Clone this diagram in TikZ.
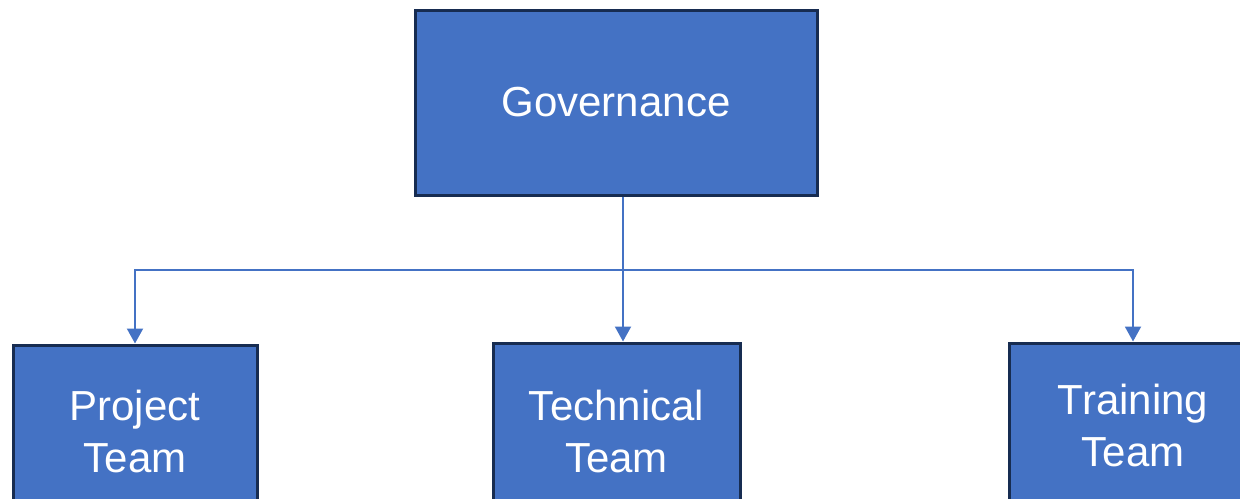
\documentclass[tikz,border=0pt]{standalone}
\usepackage{fontspec}
\setmainfont{Liberation Sans}
\usetikzlibrary{arrows.meta}
\definecolor{boxblue}{HTML}{4472C4}
\definecolor{boxedge}{HTML}{172C51}
\tikzstyle{block} = [rectangle, draw=boxedge, fill=boxblue, line width=1.5pt,
    text=white, align=center, font=\fontsize{21}{26}\selectfont, inner sep=0pt]
\tikzstyle{line} = [draw=boxblue, line width=1pt, -{Triangle[width=8pt,length=7.5pt]}]

\begin{document}
\begin{tikzpicture}[x=0.5pt, y=-0.5pt]
	    \clip (0,0) rectangle (1240,498);
	    % Place nodes
	    \node [block, minimum width=201pt, minimum height=92.5pt] (gov) at (616,102.5) {Governance};
	    \node [block, minimum width=122pt, minimum height=86pt] (proj) at (135,431) {Project\\Team};
	    \node [block, minimum width=123.5pt, minimum height=88pt] (tech) at (616.5,431) {Technical\\Team};
	    \node [block, minimum width=124pt, minimum height=82pt] (train) at (1133,425) {Training\\Team};
	    \coordinate (bus) at (623,270);
	    % Draw edges
	    \path [line] (gov.south -| bus) -- (tech.north -| bus);
	    \path [line] (bus -| proj.north) -| (train.north);
	    \path [line] (bus -| train.north) -| (proj.north);
\end{tikzpicture}
\end{document}
